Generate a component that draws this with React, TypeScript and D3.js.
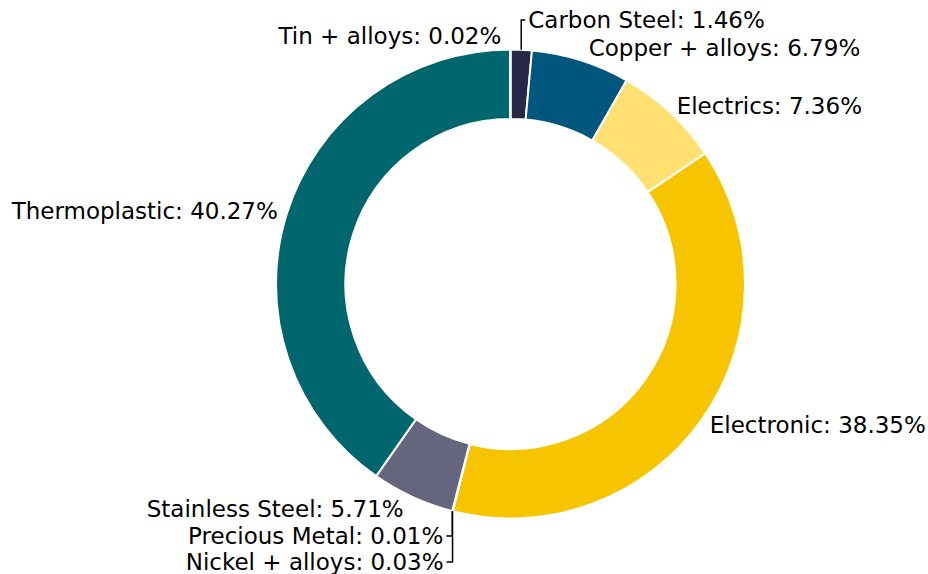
import React, { useEffect, useRef } from "react";
import * as d3 from "d3";

const categories = [
  "Carbon Steel",
  "Copper + alloys",
  "Electrics",
  "Electronic",
  "Nickel + alloys",
  "Precious Metal",
  "Stainless Steel",
  "Thermoplastic",
  "Tin + alloys",
];
const shares = [1.46, 6.79, 7.36, 38.35, 0.03, 0.01, 5.71, 40.27, 0.02];
const colors = [
  "#272747",
  "#00567c",
  "#ffe070",
  "#f6c500",
  "#8a8a9e",
  "#b0b0b0",
  "#65667e",
  "#00666e",
  "#3f7f80",
];

// label layout tweaks (pixels): [dx, dy]; leader labels get explicit target y
const labelNudge: Record<string, [number, number]> = {
  "Copper + alloys": [5, -3],
  "Stainless Steel": [-5, 3],
  "Tin + alloys": [-9, -4],
};
const leaderLabels: Record<string, { y: number; gap: number }> = {
  "Carbon Steel": { y: 20, gap: 7 },
  "Precious Metal": { y: 536, gap: -9 },
  "Nickel + alloys": { y: 562, gap: -9 },
};

const W = 928;
const H = 574;

export default function App() {
  const ref = useRef<SVGSVGElement | null>(null);

  useEffect(() => {
    document.body.style.margin = "0";
    const svg = d3.select(ref.current);
    svg.selectAll("*").remove();

    const cx = 510.5;
    const cy = 284;
    const R = 234.5;
    const r = R * 0.704;

    const data = categories.map((c, i) => ({ name: c, value: shares[i], color: colors[i] }));
    const pie = d3
      .pie<any>()
      .sort(null)
      .value((d) => d.value)
      .startAngle(0)
      .endAngle(2 * Math.PI);
    const arcs = pie(data);
    const arc = d3.arc<any>().innerRadius(r).outerRadius(R);

    const g = svg.append("g").attr("transform", `translate(${cx},${cy})`);
    g.selectAll("path")
      .data(arcs)
      .join("path")
      .attr("d", arc as any)
      .attr("fill", (d: any) => d.data.color)
      .attr("stroke", "#ffffff")
      .attr("stroke-width", 2)
      .attr("stroke-linejoin", "round");

    const fontSize = 23;
    const lblR = R * 1.04;
    arcs.forEach((a: any) => {
      const mid = (a.startAngle + a.endAngle) / 2;
      const sx = Math.sin(mid);
      const sy = -Math.cos(mid);
      const text = `${a.data.name}: ${a.data.value.toFixed(2)}%`;
      const leader = leaderLabels[a.data.name];
      if (leader) {
        const px = sx * R;
        const py = sy * R;
        const ty = leader.y - cy;
        const tx = px + leader.gap;
        const lineEnd = px + (leader.gap > 0 ? 4 : -6);
        g.append("path")
          .attr("d", `M${px},${py}L${px},${ty}L${lineEnd},${ty}`)
          .attr("fill", "none")
          .attr("stroke", "#000")
          .attr("stroke-width", 1.5);
        g.append("text")
          .attr("x", tx)
          .attr("y", ty)
          .attr("dy", "0.35em")
          .attr("text-anchor", leader.gap > 0 ? "start" : "end")
          .attr("font-family", "DejaVu Sans")
          .attr("font-size", fontSize)
          .attr("fill", "#000")
          .text(text);
        return;
      }
      const nudge = labelNudge[a.data.name] || [0, 0];
      g.append("text")
        .attr("x", sx * lblR + nudge[0])
        .attr("y", sy * lblR + nudge[1])
        .attr("dy", "0.35em")
        .attr("text-anchor", sx >= 0 ? "start" : "end")
        .attr("font-family", "DejaVu Sans")
        .attr("font-size", fontSize)
        .attr("fill", "#000")
        .text(text);
    });
  }, []);

  return (
    <svg
      ref={ref}
      width={W}
      height={H}
      style={{ position: "absolute", left: 0, top: 0, background: "#fff" }}
    />
  );
}
